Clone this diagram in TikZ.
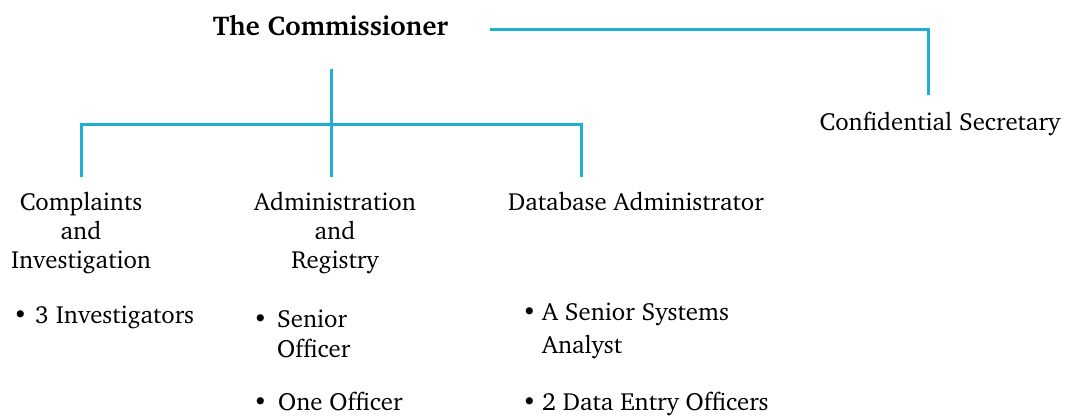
\documentclass[tikz,border=0pt]{standalone}
\usepackage[T1]{fontenc}
\usepackage{charter}
\definecolor{lineblue}{RGB}{30,176,210}
\newcommand{\bul}[1]{\makebox[#1][l]{\textbullet}}
\begin{document}
\begin{tikzpicture}[x=1pt,y=-1pt,
  conn/.style={draw=lineblue, line width=3pt},
  lbl/.style={font=\fontsize{24.8}{29}\selectfont, inner sep=0pt},
  head/.style={font=\fontsize{27.2}{29}\selectfont\bfseries, inner sep=0pt}]
\useasboundingbox (0,0) rectangle (1065,416);
\fill[white] (0,0) rectangle (1065,416);
\node[head, anchor=base] (comm) at (330.5,35) {The Commissioner};
\node[lbl, anchor=base] (sec) at (940,130) {Confidential Secretary};
\node[lbl, anchor=base, align=center] (cmp) at (81,268) {Complaints\\and\\Investigation};
\node[lbl, anchor=base, align=center] (adm) at (335,268) {Administration\\and\\Registry};
\node[lbl, anchor=base] (dba) at (636,210) {Database Administrator};
\node[lbl, anchor=base west] (b1) at (13,323) {\begin{tabular}[t]{@{}l@{}l@{}}\bul{22pt} & 3 Investigators\end{tabular}};
\node[lbl, anchor=base west] (b2) at (253,327) {\begin{tabular}[t]{@{}l@{}l@{}}\bul{24pt} & Senior\\[1pt] & Officer\end{tabular}};
\node[lbl, anchor=base west] (b3) at (253,410) {\begin{tabular}[t]{@{}l@{}l@{}}\bul{25pt} & One Officer\end{tabular}};
\node[lbl, anchor=base west] (b4) at (522,320) {\begin{tabular}[t]{@{}l@{}l@{}}\bul{20pt} & A Senior Systems\\[4pt] & Analyst\end{tabular}};
\node[lbl, anchor=base west] (b5) at (522,410) {\begin{tabular}[t]{@{}l@{}l@{}}\bul{20pt} & 2 Data Entry Officers\end{tabular}};
\coordinate (s1) at (490,29);
\coordinate (s2) at (928,95);
\coordinate (top) at (331,69);
\coordinate (dropL) at (81,177);
\coordinate (dropM) at (331,177);
\coordinate (dropR) at (581,177);
\coordinate (busR) at (581,124);
\draw[conn] (s1) -| (s2);
\draw[conn] (top) -- (dropM);
\draw[conn] (dropL) |- (busR) -- (dropR);
\end{tikzpicture}
\end{document}
